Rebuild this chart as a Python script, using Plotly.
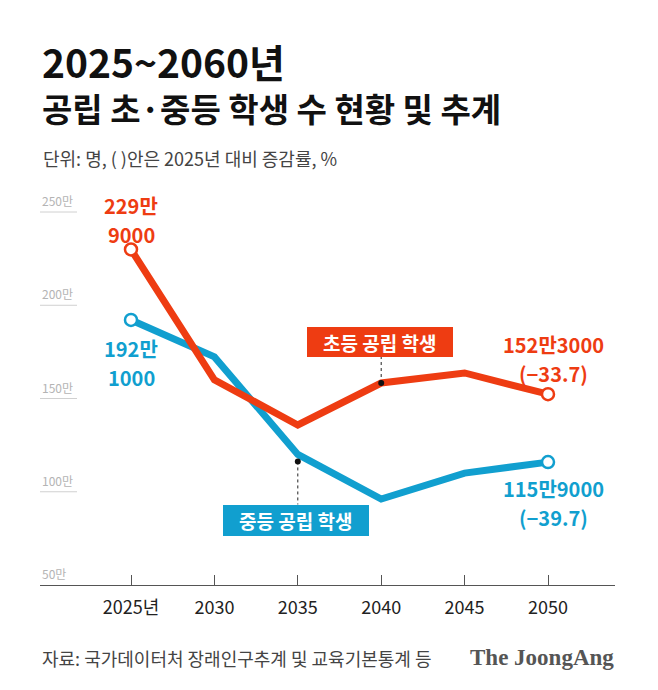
import plotly.graph_objects as go

# ---- data ----
years = [2025, 2030, 2035, 2040, 2045, 2050]
tick_text = ["2025년", "2030", "2035", "2040", "2045", "2050"]
elem_students = [229.9, 160.0, 135.8, 158.3, 163.7, 152.3]     # 초등 (만 명)
middle_students = [192.1, 172.3, 120.0, 96.1, 110.0, 115.9]    # 중등 (만 명)
y_ticks = [50, 100, 150, 200, 250]
y_tick_text = ["50만", "100만", "150만", "200만", "250만"]
elem_start_label = ["229만", "9000"]
elem_end_label = ["152만3000", "(−33.7)"]
mid_start_label = ["192만", "1000"]
mid_end_label = ["115만9000", "(−39.7)"]

RED = "#ee3c12"
BLUE = "#119fcf"
FONT = "Noto Sans CJK KR"

W, H = 658, 690
L, R, T, B = 40, 43, 200, 105
PW, PH = W - L - R, H - T - B
YMIN = 50
YMAX = 50 + PH / 1.865

def px(xp):
    return (xp - L) / PW

def py(yp):
    return (H - B - yp) / PH

fig = go.Figure()

fig.add_trace(go.Scatter(x=years, y=middle_students, mode="lines",
                         line=dict(color=BLUE, width=7), hoverinfo="skip"))
fig.add_trace(go.Scatter(x=years, y=elem_students, mode="lines",
                         line=dict(color=RED, width=7), hoverinfo="skip"))
fig.add_trace(go.Scatter(x=[years[0], years[-1]], y=[middle_students[0], middle_students[-1]],
                         mode="markers",
                         marker=dict(size=12, color="white", line=dict(color=BLUE, width=2.5)),
                         hoverinfo="skip"))
fig.add_trace(go.Scatter(x=[years[0], years[-1]], y=[elem_students[0], elem_students[-1]],
                         mode="markers",
                         marker=dict(size=12, color="white", line=dict(color=RED, width=2.5)),
                         hoverinfo="skip"))

shapes = []
annotations = []

# short gridlines + y labels
for v, t in zip(y_ticks, y_tick_text):
    if v != 50:
        shapes.append(dict(type="line", xref="paper", yref="y", x0=0, x1=px(77), y0=v, y1=v,
                           line=dict(color="#d0d0d0", width=1)))
    annotations.append(dict(xref="paper", yref="y", x=0, y=v, text=t, showarrow=False,
                            xanchor="left", yanchor="bottom", yshift=1,
                            font=dict(family=FONT, size=12, color="#b4b4b4")))

# data labels: two lines centred around a split pixel
def label(x, yv, lines, color, split_px, xshift=0, gap=29):
    base = H - B - (yv - YMIN) * PH / (YMAX - YMIN)
    for txt, c in zip(lines, [split_px - gap / 2, split_px + gap / 2]):
        annotations.append(dict(xref="x", yref="y", x=x, y=yv, text="<b>" + txt + "</b>",
                                showarrow=False, xanchor="center", yanchor="middle",
                                borderpad=0, xshift=xshift, yshift=base - c,
                                font=dict(family=FONT, size=20, color=color)))

label(years[0], elem_students[0], elem_start_label, RED, 220)
label(years[0], middle_students[0], mid_start_label, BLUE, 363)
label(years[-1], elem_students[-1], elem_end_label, RED, 359, xshift=5)
label(years[-1], middle_students[-1], mid_end_label, BLUE, 503, xshift=5)

# legend boxes
shapes.append(dict(type="rect", xref="paper", yref="paper", x0=px(307), x1=px(453),
                   y0=py(357), y1=py(327), fillcolor=RED, line=dict(width=0)))
annotations.append(dict(xref="paper", yref="paper", x=px(380), y=py(342), text="<b>초등 공립 학생</b>",
                        showarrow=False, xanchor="center", yanchor="middle",
                        font=dict(family=FONT, size=19, color="white")))
shapes.append(dict(type="rect", xref="paper", yref="paper", x0=px(223), x1=px(369),
                   y0=py(536), y1=py(505), fillcolor=BLUE, line=dict(width=0)))
annotations.append(dict(xref="paper", yref="paper", x=px(296), y=py(520), text="<b>중등 공립 학생</b>",
                        showarrow=False, xanchor="center", yanchor="middle",
                        font=dict(family=FONT, size=19, color="white")))

# leader lines + dots
shapes.append(dict(type="line", xref="x", yref="y", xsizemode="pixel", ysizemode="pixel",
                   xanchor=years[3], yanchor=elem_students[3], x0=0, x1=0, y0=0, y1=26,
                   line=dict(color="#222", width=1, dash="dot")))
shapes.append(dict(type="circle", xref="x", yref="y", xsizemode="pixel", ysizemode="pixel",
                   xanchor=years[3], yanchor=elem_students[3], x0=-3, x1=3, y0=-3, y1=3,
                   fillcolor="#111", line=dict(width=0)))
shapes.append(dict(type="line", xref="x", yref="y", xsizemode="pixel", ysizemode="pixel",
                   xanchor=years[2], yanchor=middle_students[2], x0=0, x1=0, y0=-7, y1=-50,
                   line=dict(color="#222", width=1, dash="dot")))
shapes.append(dict(type="circle", xref="x", yref="y", xsizemode="pixel", ysizemode="pixel",
                   xanchor=years[2], yanchor=middle_students[2], x0=-3, x1=3, y0=-10, y1=-4,
                   fillcolor="#111", line=dict(width=0)))

# titles
annotations.append(dict(xref="paper", yref="paper", x=px(40), y=py(61), text="<b>2025~2060년</b>",
                        showarrow=False, xanchor="left", yanchor="middle",
                        font=dict(family=FONT, size=39, color="#111")))
annotations.append(dict(xref="paper", yref="paper", x=px(40), y=py(108),
                        text="<b>공립 초·중등 학생 수 현황 및 추계</b>",
                        showarrow=False, xanchor="left", yanchor="middle",
                        font=dict(family=FONT, size=33, color="#111")))
annotations.append(dict(xref="paper", yref="paper", x=px(41), y=py(158),
                        text="단위: 명, ( )안은 2025년 대비 증감률, %",
                        showarrow=False, xanchor="left", yanchor="middle",
                        font=dict(family=FONT, size=18, color="#444")))
# footer
annotations.append(dict(xref="paper", yref="paper", x=px(40), y=py(658),
                        text="자료: 국가데이터처 장래인구추계 및 교육기본통계 등",
                        showarrow=False, xanchor="left", yanchor="middle",
                        font=dict(family=FONT, size=18, color="#444")))
annotations.append(dict(xref="paper", yref="paper", x=px(616), y=py(657),
                        text="<b>The JoongAng</b>",
                        showarrow=False, xanchor="right", yanchor="middle",
                        font=dict(family="Liberation Serif", size=23, color="#555")))

fig.update_layout(
    width=W, height=H,
    margin=dict(l=L, r=R, t=T, b=B),
    paper_bgcolor="white", plot_bgcolor="white",
    showlegend=False,
    shapes=shapes, annotations=annotations,
    xaxis=dict(range=[2025 - 91 / 16.68, 2050 + 67 / 16.68], tickmode="array",
               tickvals=years, ticktext=tick_text, showgrid=False, zeroline=False,
               showline=True, linecolor="#555", linewidth=1.2,
               ticks="inside", ticklen=10, tickcolor="#555", tickwidth=1,
               ticklabelstandoff=6,
               tickfont=dict(family=FONT, size=18, color="#222", weight=400)),
    yaxis=dict(range=[YMIN, YMAX], visible=False, showgrid=False, zeroline=False),
)

fig.write_html("out.html")
